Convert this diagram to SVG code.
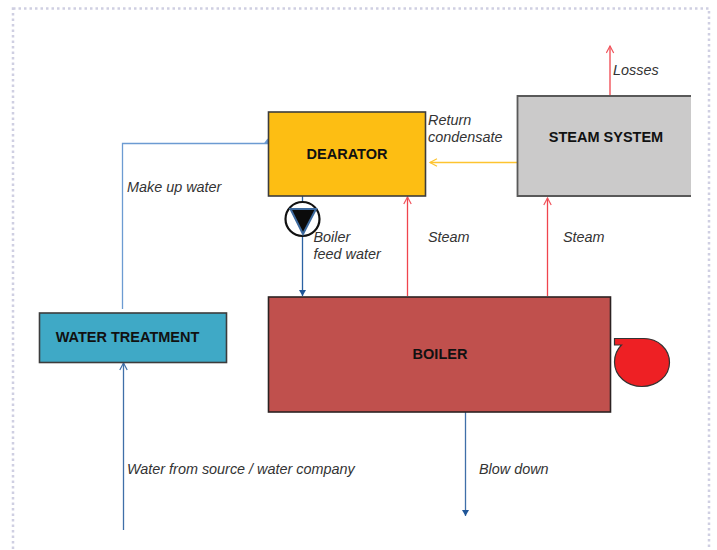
<svg xmlns="http://www.w3.org/2000/svg" width="717" height="550" viewBox="0 0 717 550">
<defs>
<style>
.box{stroke:#3c3c3c;stroke-width:1.6}
.t{font-family:"Liberation Sans",Arial,sans-serif;font-size:14.4px;fill:#1a1a1a}
.n{font-weight:bold;font-size:14.5px;text-anchor:middle;fill:#111}
.l{font-style:italic;fill:#333}
.c{fill:none;stroke-width:1.3}
</style>
<marker id="red" markerUnits="userSpaceOnUse" markerWidth="10" markerHeight="10" refX="8" refY="4.5" orient="auto"><path d="M1 0.8L8 4.5L1 8.2" fill="none" stroke="#f0545c" stroke-width="1.2"/></marker>
<marker id="yel" markerUnits="userSpaceOnUse" markerWidth="10" markerHeight="10" refX="8" refY="4.5" orient="auto"><path d="M1 0.8L8 4.5L1 8.2" fill="none" stroke="#fdc430" stroke-width="1.2"/></marker>
<marker id="bo" markerUnits="userSpaceOnUse" markerWidth="10" markerHeight="10" refX="8" refY="4.5" orient="auto"><path d="M1 0.8L8 4.5L1 8.2" fill="none" stroke="#3f6fa8" stroke-width="1.2"/></marker>
<marker id="bf" markerUnits="userSpaceOnUse" markerWidth="8" markerHeight="8" refX="6" refY="3.5" orient="auto"><path d="M0 0L6 3.5L0 7Z" fill="#1f5597"/></marker>
</defs>
<rect id="frame" x="13" y="8.500" width="696" height="600" fill="none" stroke="#cfcfe2" stroke-width="2.500" stroke-dasharray="2.500 3"/>
<g id="connectors" class="c">
<path class="c" d="M122.500 309V143.500H268" stroke="#6c9bd2"/>
<path d="M263.500 144H270L267.500 138.500Z" fill="#6c9bd2"/>
<path class="c" d="M123.500 530V363" stroke="#3f6fa8" marker-end="url(#bo)"/>
<path class="c" d="M302.500 196V296" stroke="#2b62a3" marker-end="url(#bf)"/>
<path class="c" d="M407.500 296V197" stroke="#f0444d" marker-end="url(#red)"/>
<path class="c" d="M547.500 296V198" stroke="#f0444d" marker-end="url(#red)"/>
<path class="c" d="M610 96V46" stroke="#f0444d" marker-end="url(#red)"/>
<path class="c" d="M518 162.500H430" stroke="#fdc430" marker-end="url(#yel)"/>
<path class="c" d="M465.500 412V516" stroke="#3f6fa8" marker-end="url(#bf)"/>
</g>
<g id="dearator"><rect class="box" x="268.500" y="112" width="157" height="84" fill="#fdbe13"/><text class="t n" x="347" y="159">DEARATOR</text></g>
<g id="steam-system"><rect x="517.500" y="96" width="173.500" height="100" fill="#cbcaca"/><path d="M691 96H517.500V196H691" fill="none" stroke="#595959" stroke-width="1.800"/><text class="t n" x="606" y="142">STEAM SYSTEM</text></g>
<g id="water-treatment"><rect class="box" x="39.500" y="313" width="187" height="49.500" fill="#3fa9c6"/><text class="t n" x="127.500" y="342">WATER TREATMENT</text></g>
<g id="boiler"><rect x="268.500" y="297" width="342" height="115" fill="#c0504d" stroke="#2c2222" stroke-width="1.600"/><text class="t n" x="440" y="359">BOILER</text></g>
<g id="pump"><circle cx="302.500" cy="219" r="17" fill="#fff" stroke="#111" stroke-width="2.200"/><path d="M290.500 209H316L303 234Z" fill="#0b0b0b" stroke="#3d6a9e" stroke-width="2"/></g>
<g id="fan"><path d="M614.500 338.500H644C658 338.500 669.500 349 669.500 362.500C669.500 376 657 386.500 642 386.500C627 386.500 614.500 376 614.500 362C614.500 355 617 349.500 621.500 345H614.500Z" fill="#ee2024" stroke="#333" stroke-width="1.200"/></g>
<g id="labels">
<text class="t l" x="428" y="125">Return</text>
<text class="t l" x="428" y="142">condensate</text>
<text class="t l" x="613" y="75">Losses</text>
<text class="t l" x="127" y="192">Make up water</text>
<text class="t l" x="313.500" y="242">Boiler</text>
<text class="t l" x="313.500" y="259">feed water</text>
<text class="t l" x="428" y="242">Steam</text>
<text class="t l" x="563" y="242">Steam</text>
<text class="t l" x="127" y="474">Water from source / water company</text>
<text class="t l" x="479" y="474">Blow down</text>
</g>
</svg>
